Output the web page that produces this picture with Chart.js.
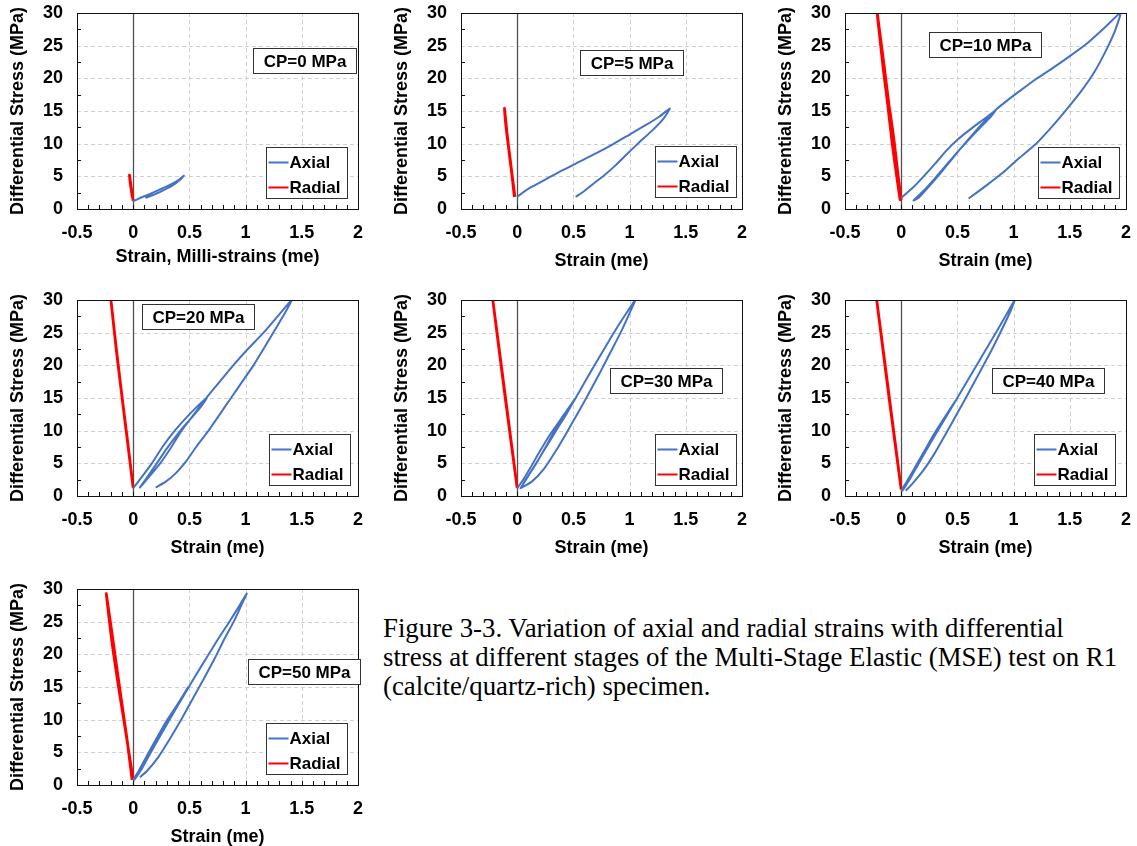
<!DOCTYPE html>
<html>
<head>
<meta charset="utf-8">
<script src="https://cdn.jsdelivr.net/npm/chart.js@4.4.0/dist/chart.umd.min.js"></script>
<style>
  html, body { margin: 0; padding: 0; background: #fff; }
  body { position: relative; width: 1137px; height: 846px; overflow: hidden; }
  canvas.panel { position: absolute; }
  #caption {
    position: absolute; left: 383px; top: 614px;
    font-family: "Liberation Serif", "Times New Roman", serif;
    font-size: 26.8px; line-height: 29px; color: #000; white-space: nowrap;
  }
</style>
</head>
<body>
<div id="caption">Figure 3-3. Variation of axial and radial strains with differential<br>stress at different stages of the Multi-Stage Elastic (MSE) test on R1<br>(calcite/quartz-rich) specimen.</div>
<script>
// Axis ticks shared by every panel
const strainTicks = [-0.5, 0, 0.5, 1, 1.5, 2];
const strainTickLabels = ['-0.5', '0', '0.5', '1', '1.5', '2'];
const stressTicks = [0, 5, 10, 15, 20, 25, 30];
const stressTickLabels = ['0', '5', '10', '15', '20', '25', '30'];

// Confining-pressure stages
const stageLabels = ['CP=0 MPa', 'CP=5 MPa', 'CP=10 MPa', 'CP=20 MPa', 'CP=30 MPa', 'CP=40 MPa', 'CP=50 MPa'];
const strainTitles = ['Strain, Milli-strains (me)', 'Strain (me)', 'Strain (me)', 'Strain (me)', 'Strain (me)', 'Strain (me)', 'Strain (me)'];

// [strain (me), differential stress (MPa)] for each stage
const axialCP0 = [[0,1.2],[0.05,1.6],[0.1,1.95],[0.2,2.7],[0.3,3.45],[0.4,4.4],[0.45,5.1],[0.42,4.5],[0.35,3.6],[0.25,2.7],[0.17,2.1],[0.11,1.7]];
const radialCP0 = [[0,1.2],[-0.01,2.4],[-0.02,3.6],[-0.033,5.2],[-0.028,4.2],[-0.018,3.0],[-0.008,1.8]];

const axialCP5 = [[0,1.85],[0.04,2.4],[0.12,3.3],[0.25,4.5],[0.4,5.9],[0.55,7.2],[0.7,8.5],[0.85,9.9],[1.0,11.4],[1.15,12.9],[1.27,14.2],[1.36,15.4],
  [1.3,13.8],[1.2,12.0],[1.08,10.1],[0.97,8.3],[0.87,6.6],[0.77,5.1],[0.68,3.9],[0.6,2.8],[0.52,1.85]];
const radialCP5 = [[-0.02,1.85],[-0.04,4.5],[-0.065,8],[-0.09,11.5],[-0.113,15.4],[-0.105,13.5],[-0.085,10.5],[-0.06,7],[-0.04,4.2],[-0.025,1.85]];

const axialCP10 = [[0,1.7],[0.1,3.2],[0.2,5.0],[0.3,6.9],[0.4,8.9],[0.5,10.6],[0.6,12.0],[0.7,13.3],[0.78,14.3],[0.84,15.1],
  [0.8,14.2],[0.7,12.4],[0.6,10.6],[0.5,8.7],[0.4,6.7],[0.3,4.7],[0.2,2.8],[0.11,1.3],
  [0.16,1.8],[0.25,3.5],[0.35,5.5],[0.45,7.6],[0.55,9.7],[0.65,11.7],[0.75,13.6],[0.85,15.3],[0.95,16.7],[1.05,18],[1.2,19.9],[1.35,21.6],[1.5,23.4],[1.65,25.3],[1.8,27.6],[1.95,30],
  [1.9,27.2],[1.82,24.2],[1.72,21],[1.6,18],[1.45,14.8],[1.32,12.2],[1.2,10],[1.05,7.8],[0.9,5.5],[0.75,3.5],[0.6,1.6]];
const radialCP10 = [[0,1.4],[-0.03,5.5],[-0.06,10],[-0.1,15],[-0.085,12.5],[-0.055,8],[-0.025,3.8],[-0.008,1.4],
  [-0.04,6.5],[-0.08,12],[-0.12,17.5],[-0.16,23],[-0.213,30],[-0.195,27],[-0.16,21.5],[-0.12,16],[-0.08,10],[-0.04,5],[-0.01,1.4]];

const axialCP20 = [[0,1.2],[0.08,3],[0.166,5],[0.26,7.5],[0.37,10],[0.5,12.5],[0.654,15],
  [0.6,13.6],[0.5,11.6],[0.42,10],[0.3,7.3],[0.21,5],[0.13,3],[0.06,1.3],
  [0.12,2.5],[0.24,5],[0.34,7.5],[0.43,10],[0.54,12.5],[0.65,15],[0.77,17.5],[0.89,20],[1.02,22.5],[1.16,25],[1.29,27.6],[1.41,30],
  [1.35,28],[1.26,25.4],[1.17,22.8],[1.07,20],[0.97,17.5],[0.87,15],[0.77,12.5],[0.67,10],[0.56,7.5],[0.47,5.3],[0.38,3.5],[0.29,2.2],[0.2,1.3]];
const radialCP20 = [[0,1.2],[-0.05,8.2],[-0.1,15.2],[-0.15,22.3],[-0.198,30],[-0.15,22.5],[-0.1,15.3],[-0.05,8.4],[0,1.2]];

const axialCP30 = [[0,1.2],[0.05,2.4],[0.12,4.4],[0.2,6.8],[0.3,9.6],[0.41,12.3],[0.52,15],
  [0.45,13.3],[0.36,10.8],[0.27,8],[0.18,5.3],[0.1,3.1],[0.03,1.2],
  [0.08,2.6],[0.15,4.5],[0.25,7.3],[0.35,10.1],[0.44,12.6],[0.52,15],[0.6,17.4],[0.68,19.8],[0.77,22.4],[0.86,25],[0.96,27.7],[1.05,30],
  [1.0,28],[0.92,25],[0.83,22],[0.74,19],[0.64,15.8],[0.54,12.7],[0.44,9.7],[0.34,6.8],[0.24,4.2],[0.13,2.2],[0.03,1.2]];
const radialCP30 = [[0,1.2],[-0.1,14.5],[-0.217,30],[-0.11,15.5],[0,1.2]];

const axialCP40 = [[0,0.8],[0.05,2.2],[0.12,4.3],[0.2,6.7],[0.3,9.7],[0.4,12.4],[0.5,15],
  [0.42,12.8],[0.33,10.3],[0.24,7.6],[0.15,4.9],[0.07,2.5],[0.01,0.8],
  [0.07,2.4],[0.15,4.8],[0.25,7.8],[0.35,10.7],[0.45,13.6],[0.55,16.5],[0.65,19.4],[0.75,22.3],[0.85,25.2],[0.94,27.9],[1.01,30],
  [0.97,28.2],[0.89,25.3],[0.8,22.2],[0.7,19],[0.6,15.8],[0.5,12.7],[0.4,9.6],[0.3,6.6],[0.2,4],[0.1,1.9],[0.04,0.8]];
const radialCP40 = [[0,1.0],[-0.11,15.3],[-0.218,30],[-0.105,15],[0,1.0]];

const axialCP50 = [[0,0.8],[0.05,2.2],[0.12,4.4],[0.2,6.9],[0.3,9.9],[0.4,12.5],[0.49,15],
  [0.42,12.9],[0.33,10.3],[0.24,7.6],[0.15,4.9],[0.07,2.4],[0.01,0.8],
  [0.07,2.3],[0.15,4.8],[0.25,7.8],[0.35,10.8],[0.45,13.7],[0.55,16.6],[0.65,19.4],[0.75,22.2],[0.86,25.1],[0.95,27.6],[1.01,29.3],
  [0.97,27.8],[0.9,25.2],[0.81,22.3],[0.72,19.2],[0.62,16],[0.52,12.9],[0.42,9.8],[0.32,6.9],[0.22,4.2],[0.12,2.1],[0.06,1.2]];
const radialCP50 = [[0,0.8],[-0.07,8.5],[-0.135,15.5],[-0.19,22],[-0.24,29.3],
  [-0.195,24],[-0.15,18.5],[-0.105,13],[-0.055,7],[-0.01,0.8]];

const axialSeries = [axialCP0, axialCP5, axialCP10, axialCP20, axialCP30, axialCP40, axialCP50];
const radialSeries = [radialCP0, radialCP5, radialCP10, radialCP20, radialCP30, radialCP40, radialCP50];

// Panel placement on the page and the boxes inside each plot area
// (box offsets are measured from the plot area's top-left corner)
const panelLayout = [
  { left: 0,   top: 0,   stage: [176, 35],  legend: [189, 134] },
  { left: 384, top: 0,   stage: [119, 37],  legend: [194, 133] },
  { left: 768, top: 0,   stage: [84, 19],   legend: [193, 134] },
  { left: 0,   top: 287, stage: [65, 4],    legend: [192, 134] },
  { left: 384, top: 287, stage: [149, 68],  legend: [194, 134] },
  { left: 768, top: 287, stage: [147, 68],  legend: [189, 134] },
  { left: 0,   top: 576, stage: [171, 70],  legend: [189, 134] }
];

const FONT_FAMILY = '"Liberation Sans", Arial, sans-serif';
const AXIAL_COLOR = '#4472C4';
const RADIAL_COLOR = '#FF0000';

// Excel-style plot frame: dashed grid, zero line, border, minor ticks,
// stage label box and a boxed legend inside the plot area.
const excelFrame = {
  id: 'excelFrame',
  beforeDatasetsDraw(chart) {
    const { ctx, chartArea: a, scales: { x, y } } = chart;
    ctx.save();
    ctx.strokeStyle = '#d0d0d0';
    ctx.lineWidth = 1;
    ctx.setLineDash([4, 3]);
    ctx.beginPath();
    strainTicks.forEach(v => {
      if (v <= x.min || v >= x.max) return;
      const px = Math.round(x.getPixelForValue(v)) + 0.5;
      ctx.moveTo(px, a.top); ctx.lineTo(px, a.bottom);
    });
    stressTicks.forEach(v => {
      if (v <= y.min || v >= y.max) return;
      const py = Math.round(y.getPixelForValue(v)) + 0.5;
      ctx.moveTo(a.left, py); ctx.lineTo(a.right, py);
    });
    ctx.stroke();
    ctx.setLineDash([]);
    // vertical axis crossing at zero strain
    const zx = Math.round(x.getPixelForValue(0)) + 0.5;
    ctx.strokeStyle = '#505050';
    ctx.lineWidth = 1.3;
    ctx.beginPath();
    ctx.moveTo(zx, a.top); ctx.lineTo(zx, a.bottom);
    ctx.stroke();
    ctx.restore();
  },
  afterDatasetsDraw(chart, args, opts) {
    const { ctx, chartArea: a, scales: { x, y } } = chart;
    ctx.save();
    // border
    ctx.strokeStyle = '#111';
    ctx.lineWidth = 1;
    ctx.strokeRect(Math.round(a.left) + 0.5, Math.round(a.top) + 0.5,
      Math.round(a.right - a.left), Math.round(a.bottom - a.top));
    // minor ticks, pointing into the plot
    ctx.beginPath();
    for (let i = 1; i < 25; i++) {
      const px = Math.round(x.getPixelForValue(-0.5 + i * 0.1)) + 0.5;
      ctx.moveTo(px, a.bottom); ctx.lineTo(px, a.bottom - 4);
    }
    for (let i = 0; i < 6; i++) {
      const py = Math.round(y.getPixelForValue(2.5 + i * 5)) + 0.5;
      ctx.moveTo(a.left, py); ctx.lineTo(a.left + 4, py);
    }
    ctx.stroke();

    // stage label box
    ctx.font = 'bold 17px ' + FONT_FAMILY;
    const tw = ctx.measureText(opts.stage).width;
    const bw = Math.round(tw + 20), bh = 25;
    const bx = Math.round(a.left + opts.stagePos[0]) + 0.5;
    const by = Math.round(a.top + opts.stagePos[1]) + 0.5;
    ctx.fillStyle = '#fff';
    ctx.fillRect(bx, by, bw, bh);
    ctx.strokeStyle = '#333';
    ctx.strokeRect(bx, by, bw, bh);
    ctx.fillStyle = '#000';
    ctx.textAlign = 'center';
    ctx.textBaseline = 'middle';
    ctx.fillText(opts.stage, bx + bw / 2, by + bh / 2 + 1);

    // legend box
    const lx = Math.round(a.left + opts.legendPos[0]) + 0.5;
    const ly = Math.round(a.top + opts.legendPos[1]) + 0.5;
    const lw = 81, lh = 51;
    ctx.fillStyle = '#fff';
    ctx.fillRect(lx, ly, lw, lh);
    ctx.strokeStyle = '#333';
    ctx.strokeRect(lx, ly, lw, lh);
    ctx.textAlign = 'left';
    chart.data.datasets.forEach((ds, i) => {
      const cy = ly + 15 + i * 25;
      ctx.strokeStyle = ds.borderColor;
      ctx.lineWidth = 2;
      ctx.beginPath();
      ctx.moveTo(lx + 2, cy); ctx.lineTo(lx + 22, cy);
      ctx.stroke();
      ctx.fillStyle = '#000';
      ctx.fillText(ds.label, lx + 23, cy + 1);
    });
    ctx.restore();
  }
};

const toPoints = series => series.map(([sx, sy]) => ({ x: sx, y: sy }));
const tickFont = { family: FONT_FAMILY, size: 18, weight: 'bold' };

panelLayout.forEach((pos, i) => {
  const canvas = document.createElement('canvas');
  canvas.className = 'panel';
  canvas.width = 369;
  canvas.height = 276;
  canvas.style.left = pos.left + 'px';
  canvas.style.top = pos.top + 'px';
  document.body.appendChild(canvas);

  new Chart(canvas, {
    type: 'scatter',
    data: {
      datasets: [
        { label: 'Axial', data: toPoints(axialSeries[i]), borderColor: AXIAL_COLOR, backgroundColor: AXIAL_COLOR,
          borderWidth: 2, showLine: true, pointRadius: 0, tension: 0.2, fill: false },
        { label: 'Radial', data: toPoints(radialSeries[i]), borderColor: RADIAL_COLOR, backgroundColor: RADIAL_COLOR,
          borderWidth: 2.8, showLine: true, pointRadius: 0, tension: 0.2, fill: false }
      ]
    },
    options: {
      responsive: false,
      animation: false,
      devicePixelRatio: 1,
      layout: { padding: { left: 0, top: 13, right: 11, bottom: 0 } },
      plugins: {
        legend: { display: false },
        tooltip: { enabled: false },
        excelFrame: { stage: stageLabels[i], stagePos: pos.stage, legendPos: pos.legend }
      },
      scales: {
        x: {
          type: 'linear', min: -0.5, max: 2,
          afterBuildTicks: s => { s.ticks = strainTicks.map(v => ({ value: v })); },
          afterFit: s => { s.height = 67; s.paddingLeft = 0; s.paddingRight = 0; },
          grid: { display: false, drawTicks: false },
          border: { display: false },
          ticks: { padding: 13, color: '#000', font: tickFont, maxRotation: 0, autoSkip: false,
            callback: (v, idx) => strainTickLabels[idx] },
          title: { display: true, text: strainTitles[i], color: '#000', font: tickFont,
            padding: { top: 0, bottom: i === 0 ? 8 : 4 } }
        },
        y: {
          type: 'linear', min: 0, max: 30,
          afterBuildTicks: s => { s.ticks = stressTicks.map(v => ({ value: v })); },
          afterFit: s => { s.width = 77; s.paddingTop = 0; s.paddingBottom = 0; },
          grid: { display: false, drawTicks: false },
          border: { display: false },
          ticks: { padding: 14, color: '#000', font: tickFont, autoSkip: false,
            callback: (v, idx) => stressTickLabels[idx] },
          title: { display: true, text: 'Differential Stress (MPa)', color: '#000', font: tickFont,
            padding: { top: 7, bottom: 0 } }
        }
      }
    },
    plugins: [excelFrame]
  });
});
</script>
</body>
</html>
